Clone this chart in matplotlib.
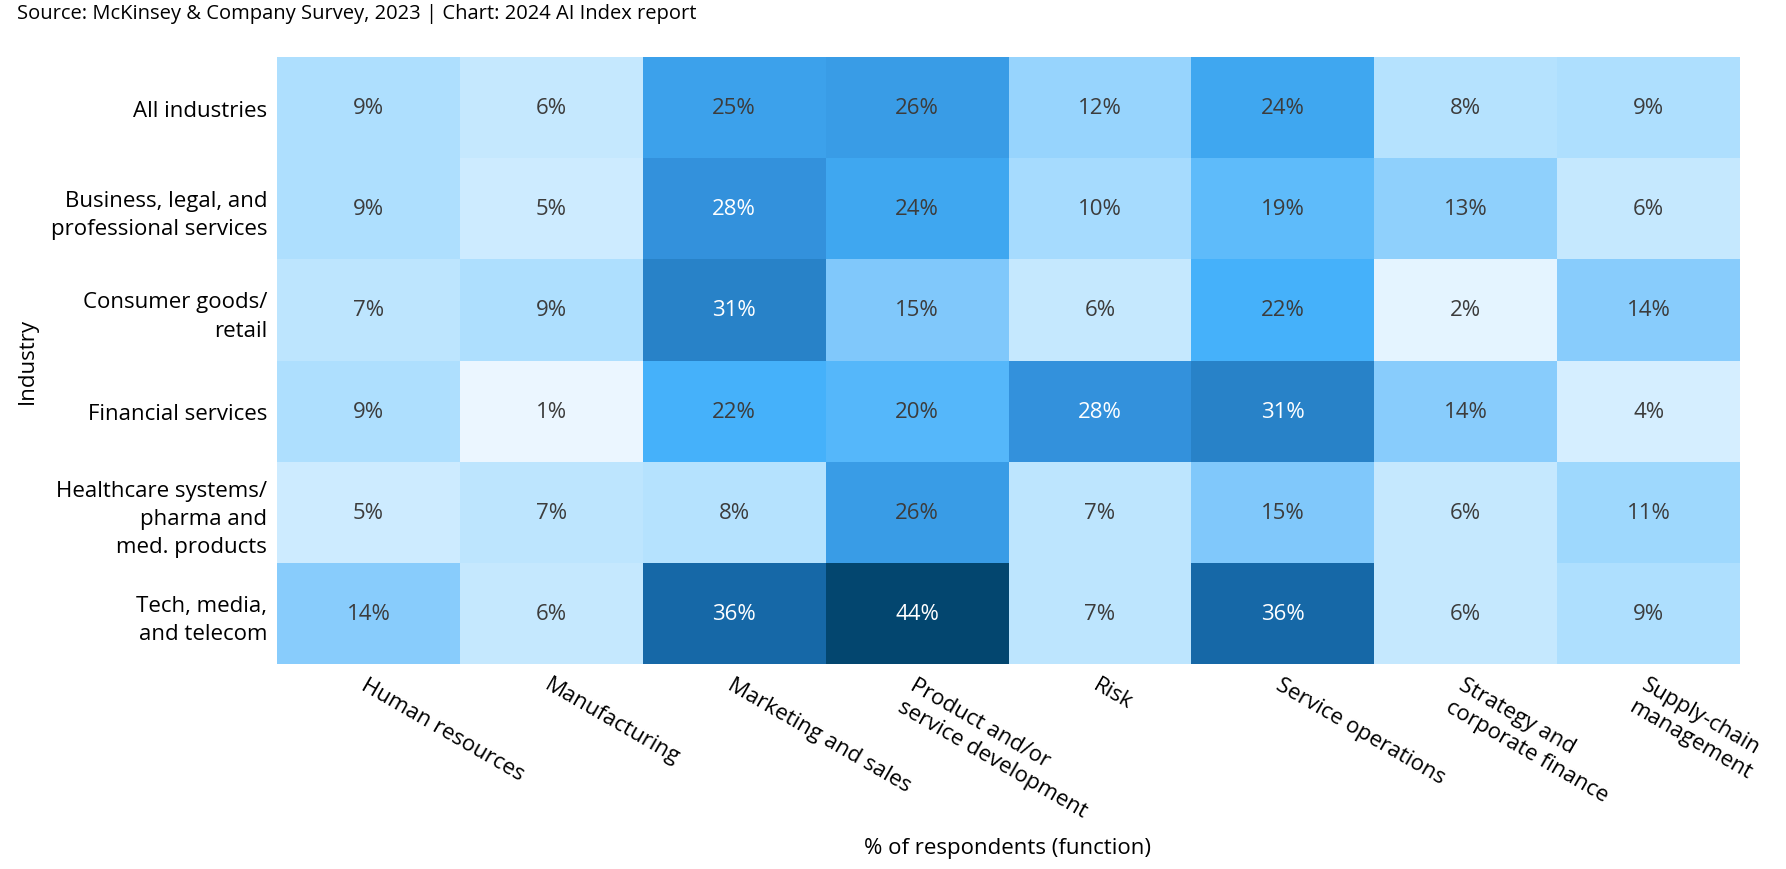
import numpy as np
import matplotlib
matplotlib.use("Agg")
import matplotlib.pyplot as plt
from matplotlib.colors import LinearSegmentedColormap, Normalize

plt.rcParams['font.family'] = ['Open Sans', 'DejaVu Sans']

# data
industries = ["All industries",
              "Business, legal, and\nprofessional services",
              "Consumer goods/\nretail",
              "Financial services",
              "Healthcare systems/\npharma and\nmed. products",
              "Tech, media,\nand telecom"]
functions = ["Human resources", "Manufacturing", "Marketing and sales",
             "Product and/or\nservice development", "Risk",
             "Service operations", "Strategy and\ncorporate finance",
             "Supply-chain\nmanagement"]
all_industries = [9, 6, 25, 26, 12, 24, 8, 9]
business_legal = [9, 5, 28, 24, 10, 19, 13, 6]
consumer_goods = [7, 9, 31, 15, 6, 22, 2, 14]
financial = [9, 1, 22, 20, 28, 31, 14, 4]
healthcare = [5, 7, 8, 26, 7, 15, 6, 11]
tech_media = [14, 6, 36, 44, 7, 36, 6, 9]

values = np.array([all_industries, business_legal, consumer_goods,
                   financial, healthcare, tech_media])

# colour scale, light to dark blue
vmin, vmax = 1, 44
stops = [(1, "#ebf6ff"), (9, "#addffe"), (15, "#80c8fb"), (22, "#45b1fa"),
         (28, "#3391dc"), (36, "#1668a8"), (44, "#03466f")]
cmap = LinearSegmentedColormap.from_list(
    "ai_blue", [((v - vmin) / (vmax - vmin), c) for v, c in stops])
norm = Normalize(vmin=vmin, vmax=vmax)

fig = plt.figure(figsize=(17.86, 8.7), dpi=100)
ax = fig.add_axes([277 / 1786, 1 - 665 / 870, (1740 - 277) / 1786, (665 - 58) / 870])

ax.pcolormesh(values, cmap=cmap, norm=norm)
ax.set_xlim(0, len(functions))
ax.set_ylim(len(industries), 0)

for i in range(values.shape[0]):
    for j in range(values.shape[1]):
        v = values[i, j]
        ax.text(j + 0.5, i + 0.5, f"{v}%", ha="center", va="center",
                fontsize=16, color="white" if v >= 28 else "#3c3c3c")

ax.set_yticks(np.arange(len(industries)) + 0.5)
ax.set_yticklabels(industries, fontsize=16, linespacing=1.45)
ax.set_xticks(np.arange(len(functions)) + 0.5)
ax.set_xticklabels(functions, fontsize=16, rotation=-30, ha="left", va="top",
                   rotation_mode="anchor", linespacing=1.3)
ax.tick_params(length=0, pad=7)
for s in ax.spines.values():
    s.set_visible(False)

ax.set_ylabel("Industry", fontsize=16)
ax.yaxis.set_label_coords(-(277 - 38) / (1740 - 277), 0.5)
fig.text(1008 / 1786, 1 - 849 / 870, "% of respondents (function)",
         ha="center", va="center", fontsize=16)
fig.text(17 / 1786, 1 - 14 / 870,
         "Source: McKinsey & Company Survey, 2023 | Chart: 2024 AI Index report",
         ha="left", va="center", fontsize=14.5)

fig.savefig("out.png", dpi=100)
